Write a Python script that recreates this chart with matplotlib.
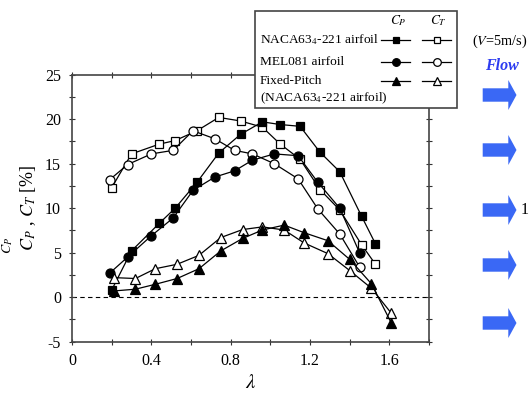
import matplotlib
matplotlib.use("Agg")
import matplotlib.pyplot as plt
from matplotlib.patches import Rectangle, Polygon
from matplotlib.lines import Line2D
from matplotlib.ticker import MultipleLocator

plt.rcParams['font.family'] = ['Liberation Serif', 'DejaVu Serif']
plt.rcParams['mathtext.fontset'] = 'stix'
plt.rcParams['axes.unicode_minus'] = False

# ---- data ----
lam_naca = [0.20, 0.30, 0.44, 0.52, 0.63, 0.74, 0.85, 0.96, 1.05, 1.15, 1.25, 1.35, 1.46, 1.53]
cp_naca = [0.8, 5.2, 8.3, 10.0, 12.9, 16.2, 18.3, 19.7, 19.4, 19.2, 16.3, 14.1, 9.1, 6.0]
ct_naca = [12.3, 16.1, 17.2, 17.6, 18.7, 20.2, 19.8, 19.1, 17.2, 15.5, 12.1, 9.8, 5.9, 3.7]

lam_mel = [0.19, 0.28, 0.40, 0.51, 0.61, 0.72, 0.82, 0.91, 1.02, 1.14, 1.24, 1.35, 1.45]
cp_mel = [2.7, 4.5, 6.9, 8.9, 12.0, 13.5, 14.2, 15.4, 16.1, 15.9, 12.9, 10.0, 5.0]
ct_mel = [13.2, 14.9, 16.1, 16.5, 18.7, 17.8, 16.5, 16.1, 15.0, 13.3, 9.9, 7.1, 3.4]

lam_fix = [0.21, 0.32, 0.42, 0.53, 0.64, 0.75, 0.86, 0.96, 1.07, 1.17, 1.29, 1.40, 1.51, 1.61]
cp_fix = [0.7, 0.9, 1.45, 2.1, 3.2, 5.2, 6.6, 7.55, 8.1, 7.25, 6.35, 4.25, 1.5, -2.9]
ct_fix = [2.2, 2.1, 3.2, 3.7, 4.7, 6.7, 7.6, 7.9, 7.55, 6.1, 4.9, 3.0, 1.0, -1.8]

legend_labels = ["NACA63$_4$-221 airfoil", "MEL081 airfoil", "Fixed-Pitch", "(NACA63$_4$-221 airfoil)"]
xticks = [0, 0.4, 0.8, 1.2, 1.6]
xticklabels = ["0", "0.4", "0.8", "1.2", "1.6"]
yticks = [-5, 0, 5, 10, 15, 20, 25]

W, H = 531, 399
fig = plt.figure(figsize=(W / 100, H / 100), dpi=100)
fx = lambda x: x / W
fy = lambda y: 1 - y / H

ax = fig.add_axes([fx(72), fy(341.7), (429 - 72) / W, (341.7 - 74.7) / H])

lw = 0.9
ms_sq, ms_c, ms_t = 6.0, 6.5, 7.0
common = dict(color='black', lw=lw, markeredgecolor='black', markeredgewidth=0.9)
ax.plot(lam_naca, ct_naca, marker='s', ms=ms_sq, mfc='white', zorder=3, **common)
ax.plot(lam_naca, cp_naca, marker='s', ms=ms_sq, mfc='black', zorder=3, **common)
ax.plot(lam_mel, ct_mel, marker='o', ms=ms_c, mfc='white', zorder=4, **common)
ax.plot(lam_mel, cp_mel, marker='o', ms=ms_c, mfc='black', zorder=4, **common)
ax.plot(lam_fix, ct_fix, marker='^', ms=ms_t, mfc='white', zorder=5, **common)
ax.plot(lam_fix, cp_fix, marker='^', ms=ms_t, mfc='black', zorder=5, **common)

ax.axhline(0, color='black', lw=0.8, ls=(0, (4, 3)), zorder=1)

ax.set_xlim(0, 1.8)
ax.set_ylim(-5, 25)
ax.set_xticks(xticks)
ax.set_xticklabels(xticklabels)
ax.set_yticks(yticks)
ax.xaxis.set_minor_locator(MultipleLocator(0.2))
ax.yaxis.set_minor_locator(MultipleLocator(2.5))
ax.tick_params(which='both', direction='inout', top=True, right=True, length=4,
               width=0.8, color='#333333', labelsize=11.5, pad=6)
for s in ax.spines.values():
    s.set_color('#444444')
    s.set_linewidth(1.2)

ax.set_ylabel("$C_P$ , $C_T$ [%]", fontsize=13, labelpad=5)
ax.set_xlabel("$\\lambda$", fontsize=15, labelpad=4)

# ---- legend box (figure coords) ----
rect = Rectangle((fx(255.3), fy(108.3)), (457.3 - 255.3) / W, (108.3 - 10.7) / H,
                 transform=fig.transFigure, facecolor='white', edgecolor='#444444',
                 lw=1.2, zorder=10)
fig.patches.append(rect)
fs_leg = 9.6
fig.text(fx(398), fy(21), "$C_P$", ha='center', va='center', fontsize=fs_leg, zorder=11)
fig.text(fx(438), fy(21), "$C_T$", ha='center', va='center', fontsize=fs_leg, zorder=11)
rows_y = [40, 61.7, 81, 98.3]
for lab, yy in zip(legend_labels, rows_y):
    fig.text(fx(260), fy(yy), lab, ha='left', va='center', fontsize=fs_leg, zorder=11)
markers = ['s', 'o', '^']
msz = [5.0, 5.5, 6.0]
for m, s, yy in zip(markers, msz, rows_y[:3]):
    for x0, x1, fc in [(381, 410, 'black'), (422, 451, 'white')]:
        ln = Line2D([fx(x0), fx(x1)], [fy(yy), fy(yy)], transform=fig.transFigure,
                    color='black', lw=lw, zorder=11)
        fig.lines.append(ln)
        mk = Line2D([fx((x0 + x1) / 2)], [fy(yy)], transform=fig.transFigure,
                    marker=m, ms=s, mfc=fc, mec='black', mew=0.9, ls='none', zorder=12)
        fig.lines.append(mk)

# ---- right side annotations ----
fig.text(fx(472), fy(41), "($V$=5m/s)", ha='left', va='center', fontsize=10.3)
fig.text(fx(485), fy(66), "Flow", ha='left', va='center', fontsize=11.5,
         color='#2d3cf0', style='italic', weight='bold')
arrow_y = [95, 150, 210, 265, 323]
blue = '#3a68f5'
for cy in arrow_y:
    pts = [(482.7, cy - 6.7), (508.3, cy - 6.7), (508.3, cy - 15), (516.5, cy),
           (508.3, cy + 15), (508.3, cy + 6.7), (482.7, cy + 6.7)]
    poly = Polygon([(fx(a), fy(b)) for a, b in pts], closed=True,
                   transform=fig.transFigure, facecolor=blue, edgecolor='none')
    fig.patches.append(poly)
fig.text(fx(521), fy(210), "1", ha='left', va='center', fontsize=11.5)
fig.text(fx(8), fy(245), "$C_P$", ha='center', va='center', fontsize=10, rotation=90)

fig.savefig("out.png", dpi=100)
